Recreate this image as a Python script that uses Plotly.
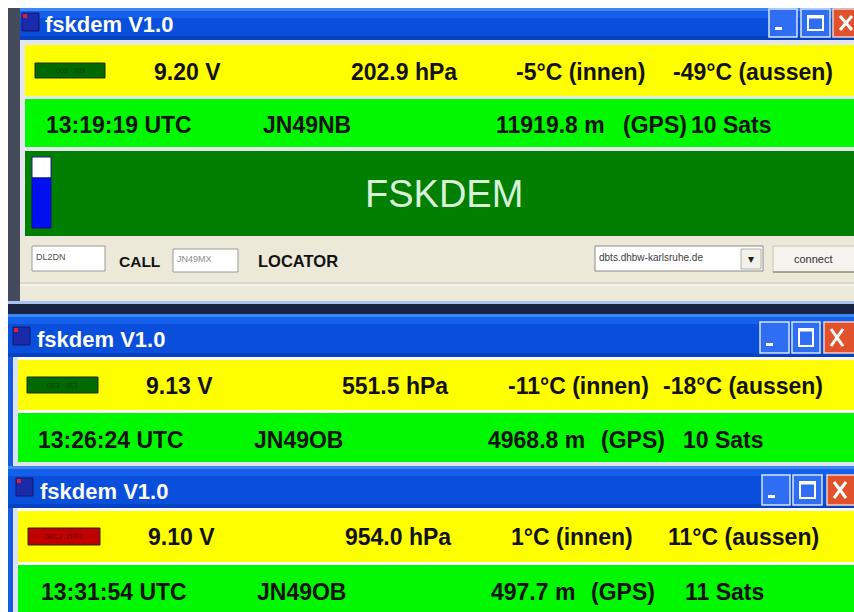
import plotly.graph_objects as go

# ---------------- data (texts shown in the three windows) ----------------
window_titles = ["fskdem V1.0", "fskdem V1.0", "fskdem V1.0"]
voltages = ["9.20 V", "9.13 V", "9.10 V"]
pressures = ["202.9 hPa", "551.5 hPa", "954.0 hPa"]
temps_inside = ["-5°C (innen)", "-11°C (innen)", "1°C (innen)"]
temps_outside = ["-49°C (aussen)", "-18°C (aussen)", "11°C (aussen)"]
times_utc = ["13:19:19 UTC", "13:26:24 UTC", "13:31:54 UTC"]
locators = ["JN49NB", "JN49OB", "JN49OB"]
altitudes = ["11919.8 m", "4968.8 m", "497.7 m"]
gps_labels = ["(GPS)", "(GPS)", "(GPS)"]
satellites = ["10 Sats", "10 Sats", "11 Sats"]
led_labels = ["009   009", "0E3   0E3", "0EC7  0FF3"]
banner_text = "FSKDEM"
call_value = "DL2DN"
call_label = "CALL"
locator_value = "JN49MX"
locator_label = "LOCATOR"
server_value = "dbts.dhbw-karlsruhe.de"
connect_label = "connect"

# ---------------- layout / style (pixel geometry) ----------------
W, H = 854, 612
FONT = "Liberation Sans, Arial, sans-serif"
YELLOW = "#FFFF00"
GREEN = "#00F800"
DKGREEN = "#007F00"
XPGRAY = "#ECE9D8"
TITLE_BLUE = "#0A4EDC"
TXT = "#121212"

wins = [
    dict(frame_x=8, title=(8, 40), band_x=25,
         yellow=(45, 96), green=(99, 147), icon=(22, 13), title_x=44, title_yc=24,
         btn=[(769, 797), (801, 830), (833, 860)], btn_y=(9, 37),
         led=(35, 105, 63, 78), led_col="#006A00", led_txt="#0F3F0F",
         row1_y=72, row2_y=125,
         x1=[153, 350, 515, 672], x2=[45, 262, 495, 622, 690]),
    dict(frame_x=8, title=(314, 357), band_x=18,
         yellow=(360, 410), green=(413, 462), icon=(13, 327), title_x=36, title_yc=339,
         btn=[(760, 789), (792, 820), (824, 860)], btn_y=(322, 353),
         led=(27, 98, 377, 393), led_col="#006A00", led_txt="#0F3F0F",
         row1_y=386, row2_y=440,
         x1=[145, 341, 507, 662], x2=[37, 253, 487, 600, 682]),
    dict(frame_x=8, title=(466, 508), band_x=18,
         yellow=(511, 562), green=(565, 615), icon=(16, 478), title_x=39, title_yc=491,
         btn=[(762, 790), (793, 822), (827, 860)], btn_y=(475, 505),
         led=(28, 100, 528, 545), led_col="#C00000", led_txt="#700000",
         row1_y=537, row2_y=592,
         x1=[147, 344, 510, 667], x2=[40, 256, 490, 590, 684]),
]

shapes = []
annos = []


def rect(x0, y0, x1, y1, fill, line=None, lw=0):
    shapes.append(dict(type="rect", xref="x", yref="y", x0=x0, y0=y0, x1=x1, y1=y1,
                       fillcolor=fill, line=dict(color=line or fill, width=lw)))


def line(x0, y0, x1, y1, col, lw=1):
    shapes.append(dict(type="line", xref="x", yref="y", x0=x0, y0=y0, x1=x1, y1=y1,
                       line=dict(color=col, width=lw)))


def text(x, y, s, size, col=TXT, bold=True, anchor="left", family=FONT):
    annos.append(dict(x=x, y=y, xref="x", yref="y", text=(f"<b>{s}</b>" if bold else s),
                      showarrow=False, xanchor=anchor, yanchor="middle",
                      font=dict(family=family, size=size, color=col), borderpad=0))


# ---- window 1 outer frame and bottom part ----
rect(8, 8, 20, 312, "#454B5C")
rect(20, 40, W, 302, "#E4E8EC")
rect(20, 237, W, 301, XPGRAY)
line(20, 283, W, 283, "#CBC7B6", 1)
line(20, 285, W, 285, "#FFFFFF", 1)
rect(8, 301, W, 304, "#A9C2F2")
rect(8, 304, W, 314, "#1B2342")
# banner
rect(25, 151, W, 236, DKGREEN)
rect(32, 157, 51, 178, "#FFFFFF", "#1A1AA0", 1)
rect(32, 178, 51, 228, "#0010F0", "#0A0A90", 1)
text(444, 194, banner_text, 38, col="#D8F2D8", bold=False, anchor="center")

# bottom controls
rect(32, 246, 105, 271, "#FFFFFF", "#9A9A9A", 1)
text(35, 257, call_value, 9, col="#505050", bold=False)
text(118, 261, call_label, 15.5)
rect(173, 249, 238, 272, "#FFFFFF", "#9A9A9A", 1)
text(176, 259, locator_value, 9, col="#8A8A8A", bold=False)
text(257, 261, locator_label, 16.5)
rect(595, 246, 763, 271, "#FFFFFF", "#8A8A8A", 1)
text(598, 257, server_value, 10, col="#404040", bold=False)
rect(741, 249, 761, 269, "#F2F1EA", "#B0B0A8", 1)
text(751, 259, "▾", 12, col="#202020", bold=False, anchor="center")
rect(773, 246, W + 5, 272, "#F4F3EE", "#C8C4B4", 1)
line(773, 272, W, 272, "#A8A494", 2)
text(813, 259, connect_label, 11, col="#303030", bold=False, anchor="center")

# ---- window 2/3 frames ----
rect(8, 314, 13, 612, "#1A58E0")
rect(13, 357, 18, 612, "#D8E4F4")
rect(13, 462, W, 466, "#DDE6EE")

# ---- per-window common parts ----
for i, w in enumerate(wins):
    t0, t1 = w["title"]
    fx = w["frame_x"] if i else 20
    # title bar with simple gradient
    rect(fx, t0, W, t1, TITLE_BLUE)
    rect(fx, t0, W, t0 + 3, "#3E86F6")
    rect(fx, t0 + 3, W, t0 + 10, "#1460EA")
    rect(fx, t1 - 4, W, t1, "#0642C4")
    # icon
    ix, iy = w["icon"]
    rect(ix, iy, ix + 17, iy + 18, "#1B2AA8", "#101870", 1)
    rect(ix + 1, iy + 1, ix + 5, iy + 5, "#E02030")
    text(w["title_x"], w["title_yc"], window_titles[i], 22, col="#FFFFFF")
    # title buttons
    by0, by1 = w["btn_y"]
    (m0, m1), (x0, x1), (c0, c1) = w["btn"]
    rect(m0, by0, m1, by1, "#2F6EF2", "#D8E4FC", 1.5)
    rect(m0 + 6, by1 - 10, m0 + 13, by1 - 7, "#FFFFFF")
    rect(x0, by0, x1, by1, "#2F6EF2", "#D8E4FC", 1.5)
    rect(x0 + 7, by0 + 7, x1 - 7, by1 - 7, "rgba(0,0,0,0)", "#FFFFFF", 2)
    line(x0 + 7, by0 + 8, x1 - 7, by0 + 8, "#FFFFFF", 3)
    rect(c0, by0, c1, by1, "#E1522C", "#F2D0C4", 1.5)
    line(c0 + 7, by0 + 7, c0 + 19, by1 - 7, "#FFFFFF", 3)
    line(c0 + 19, by0 + 7, c0 + 7, by1 - 7, "#FFFFFF", 3)
    # bands
    y0, y1 = w["yellow"]
    rect(w["band_x"], y0, W, y1, YELLOW)
    g0, g1 = w["green"]
    rect(w["band_x"], g0, W, g1, GREEN)
    # LED indicator
    lx0, lx1, ly0, ly1 = w["led"]
    rect(lx0, ly0, lx1, ly1, w["led_col"], "#1C2A1C", 1)
    text((lx0 + lx1) / 2, (ly0 + ly1) / 2, led_labels[i], 7, col=w["led_txt"],
         bold=False, anchor="center")
    # texts
    r1 = [voltages[i], pressures[i], temps_inside[i], temps_outside[i]]
    for x, s in zip(w["x1"], r1):
        text(x, w["row1_y"], s, 23)
    r2 = [times_utc[i], locators[i], altitudes[i], gps_labels[i], satellites[i]]
    for x, s in zip(w["x2"], r2):
        text(x, w["row2_y"], s, 23)

fig = go.Figure()
fig.update_layout(
    width=W, height=H, margin=dict(l=0, r=0, t=0, b=0),
    paper_bgcolor="#FFFFFF", plot_bgcolor="#FFFFFF",
    xaxis=dict(range=[0, W], visible=False, fixedrange=True),
    yaxis=dict(range=[H, 0], visible=False, fixedrange=True),
    shapes=shapes, annotations=annos, showlegend=False,
)
fig.write_html("out.html", config=dict(displayModeBar=False),
               post_script="document.body.style.margin='0';document.body.style.overflow='hidden';")
